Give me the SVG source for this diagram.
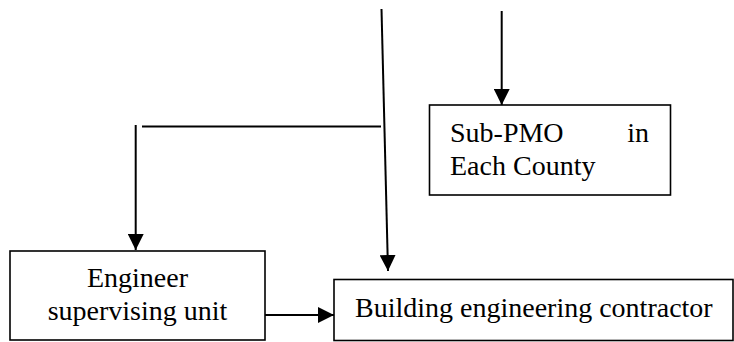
<svg xmlns="http://www.w3.org/2000/svg" width="734" height="342" viewBox="0 0 734 342">
  <style>
    .box { fill: #fff; stroke: #000; stroke-width: 1.6; }
    .conn { fill: none; stroke: #000; stroke-width: 2; }
    .lbl { font-family: "Liberation Serif", "Times New Roman", serif; font-size: 28px; fill: #000; }
  </style>
  <defs>
    <marker id="arrow" markerUnits="userSpaceOnUse" markerWidth="16" markerHeight="16" refX="16" refY="8" orient="auto">
      <path d="M0,0 L16,8 L0,16 Z" fill="#000"/>
    </marker>
  </defs>

  <g id="connectors">
    <!-- long feed down to the contractor -->
    <line class="conn" x1="381.5" y1="9" x2="388" y2="271" marker-end="url(#arrow)"/>
    <!-- feed down to the county sub-office -->
    <line class="conn" x1="501.7" y1="11" x2="501.7" y2="105" marker-end="url(#arrow)"/>
    <!-- branch off to the supervising unit -->
    <line class="conn" x1="142" y1="126.5" x2="381" y2="126.5"/>
    <line class="conn" x1="135.7" y1="125" x2="135.7" y2="250" marker-end="url(#arrow)"/>
    <!-- supervising unit to contractor -->
    <line class="conn" x1="265" y1="315" x2="334" y2="315" marker-end="url(#arrow)"/>
  </g>

  <g id="sub-pmo">
    <rect class="box" x="429.5" y="105" width="241" height="90"/>
    <text class="lbl" x="450" y="142">Sub-PMO</text>
    <text class="lbl" x="649" y="142" text-anchor="end">in</text>
    <text class="lbl" x="450" y="175">Each County</text>
  </g>

  <g id="supervising-unit">
    <rect class="box" x="10" y="251" width="255" height="89"/>
    <text class="lbl" x="137.5" y="287" text-anchor="middle">Engineer</text>
    <text class="lbl" x="137.5" y="320" text-anchor="middle">supervising unit</text>
  </g>

  <g id="contractor">
    <rect class="box" x="334" y="279.5" width="399" height="61"/>
    <text class="lbl" x="355" y="317">Building engineering contractor</text>
  </g>
</svg>
